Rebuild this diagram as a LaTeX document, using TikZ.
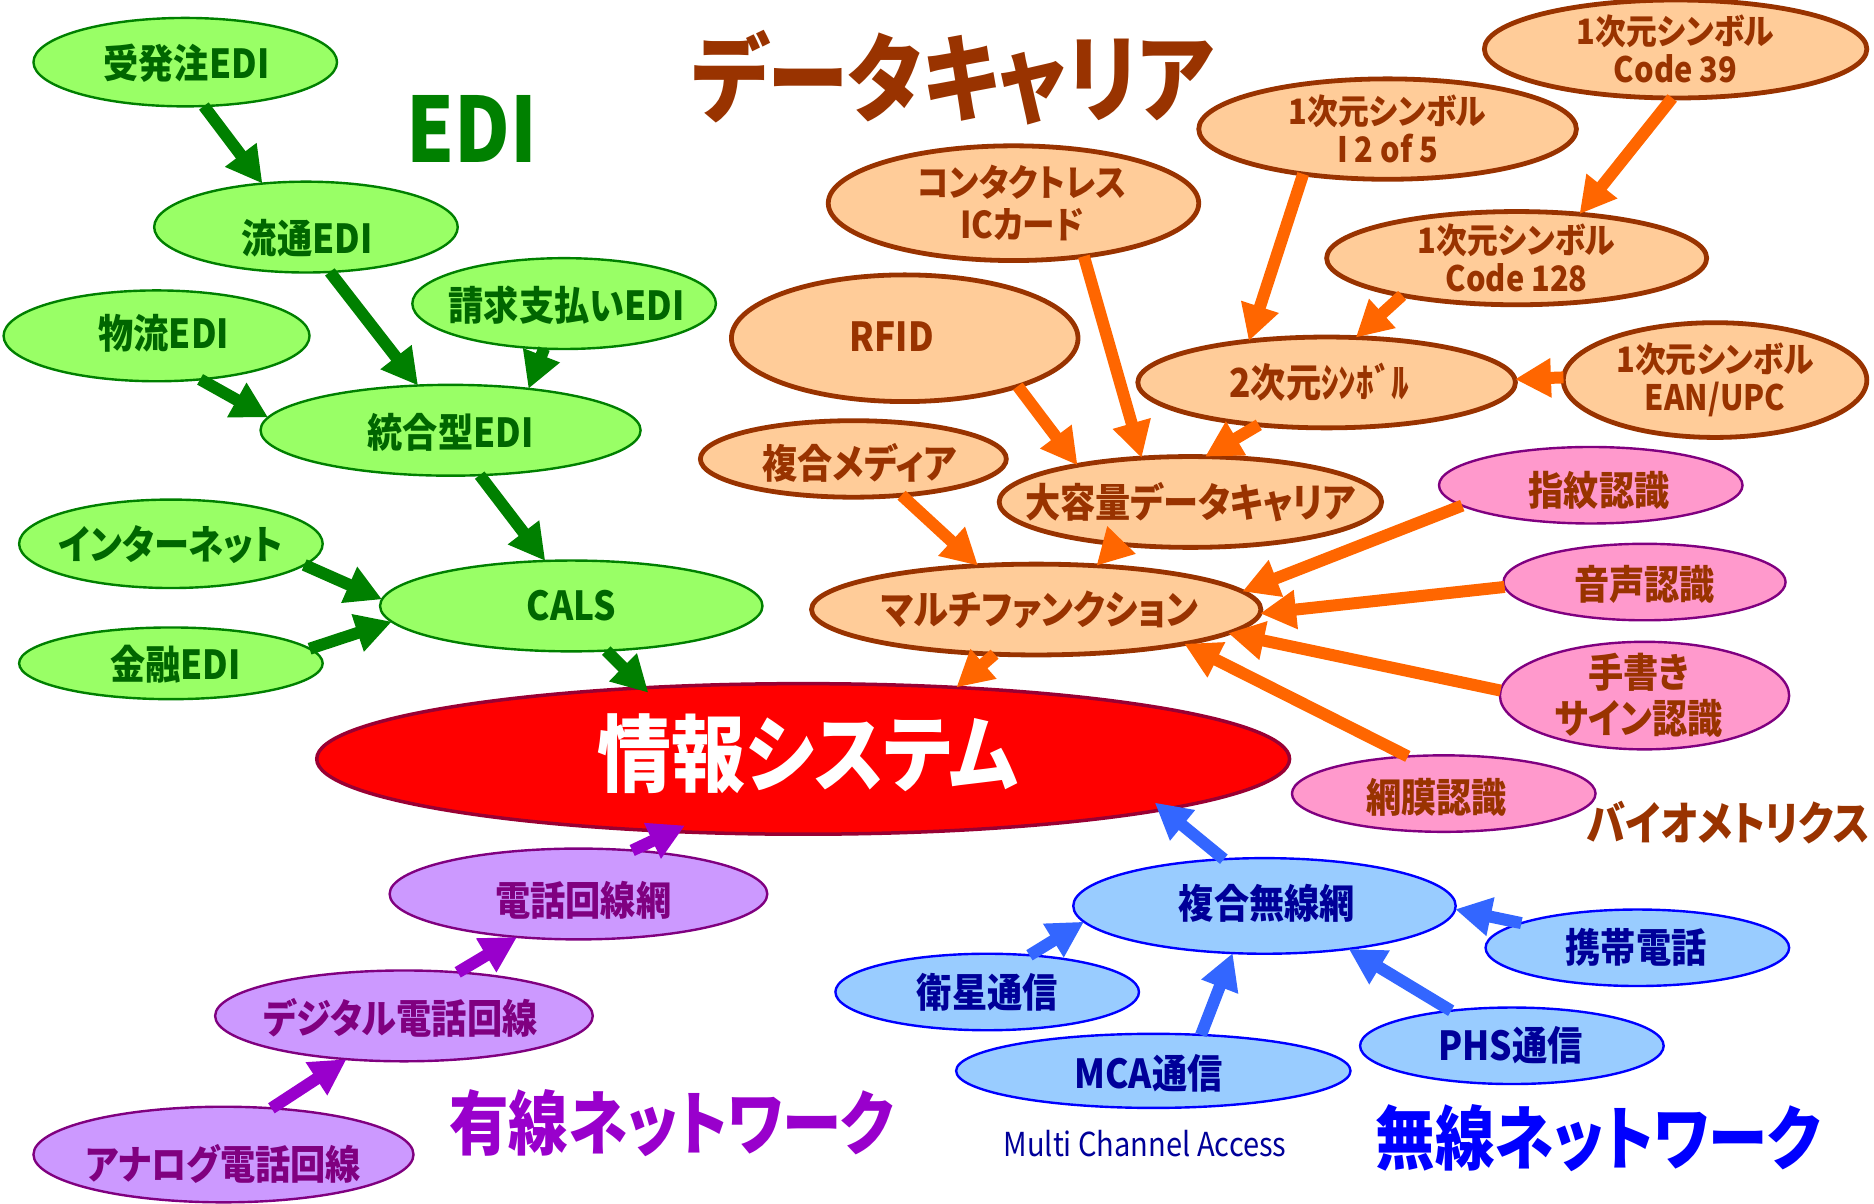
\documentclass[tikz,border=0pt]{standalone}
\usepackage{fontspec}
\usetikzlibrary{arrows.meta,shapes.geometric}
\setmainfont{Noto Sans CJK JP}[RawFeature=+palt, FakeStretch=0.88]
\newfontfamily\tfont{Noto Sans CJK JP}[RawFeature=+palt, FakeStretch=0.85]
\definecolor{gfill}{HTML}{99FF66}
\definecolor{gline}{HTML}{008000}
\definecolor{gtext}{HTML}{006600}
\definecolor{ofill}{HTML}{FFCC99}
\definecolor{oline}{HTML}{993300}
\definecolor{oarr}{HTML}{FF6600}
\definecolor{pfill}{HTML}{FF99CC}
\definecolor{pline}{HTML}{800080}
\definecolor{vfill}{HTML}{CC99FF}
\definecolor{varr}{HTML}{9900CC}
\definecolor{bfill}{HTML}{99CCFF}
\definecolor{bline}{HTML}{0000FF}
\definecolor{btext}{HTML}{000099}
\definecolor{barr}{HTML}{3366FF}
\definecolor{rline}{HTML}{990033}
\begin{document}
\begin{tikzpicture}[x=1.195pt,y=-1.195pt,
  base/.style={ellipse, inner sep=0pt, outer sep=0pt},
  sz/.style 2 args={minimum width=2.39*#1pt, minimum height=2.39*#2pt},
  gE/.style={base, fill=gfill, draw=gline, line width=2.4pt},
  oE/.style={base, fill=ofill, draw=oline, line width=4.8pt},
  pE/.style={base, fill=pfill, draw=pline, line width=2.4pt},
  vE/.style={base, fill=vfill, draw=pline, line width=2.4pt},
  bE/.style={base, fill=bfill, draw=bline, line width=2.4pt},
  rE/.style={base, fill=red, draw=rline, line width=3.5pt},
  txt/.style={font=\bfseries\fontsize{40pt}{46pt}\selectfont, align=center, inner sep=0pt},
  small/.style={font=\bfseries\fontsize{35pt}{38pt}\selectfont},
  gT/.style={txt, text=gtext},
  oT/.style={txt, text=oline},
  vT/.style={txt, text=pline},
  bT/.style={txt, text=btext},
  arr/.style={line width=12pt, -{Triangle[length=36pt,width=37pt]}},
  garr/.style={arr, draw=gline, fill=gline},
  oarrow/.style={arr, draw=oarr, fill=oarr},
  varrow/.style={arr, draw=varr, fill=varr},
  barrow/.style={arr, draw=barr, fill=barr},
  title/.style={font=\tfont\bfseries\fontsize{70pt}{74pt}\selectfont, inner sep=0pt}
]
\useasboundingbox (0,0) rectangle (1568,1007);

% ---------- green (EDI) ----------
\node[gE, sz={127}{37}] (g1) at (155,52) {};
\node[gE, sz={127}{38}] (g2) at (256,190) {};
\node[gE, sz={127}{38}] (g3) at (472,254) {};
\node[gE, sz={128}{38}] (g4) at (131,281) {};
\node[gE, sz={159}{38}] (g5) at (377,360) {};
\node[gE, sz={127}{37}] (g6) at (143,455) {};
\node[gE, sz={127}{30}] (g7) at (143,555) {};
\node[gE, sz={160}{38}] (g8) at (478,507) {};
\node[gT] (g1t) at (156,53) {受発注EDI};
\node[gT] (g2t) at (257,199) {流通EDI};
\node[gT] (g3t) at (474,255) {請求支払いEDI};
\node[gT] (g4t) at (137,279) {物流EDI};
\node[gT] (g5t) at (377,362) {統合型EDI};
\node[gT] (g6t) at (143,456) {インターネット};
\node[gT] (g7t) at (147,556) {金融EDI};
\node[gT] (g8t) at (478,507) {CALS};
\node[title, text=gline, font=\tfont\bfseries\fontsize{90pt}{94pt}\selectfont] (edi) at (395,108) {EDI};

% ---------- red ----------
\node[rE, sz={407}{63}] (r) at (672,635) {};
\node[txt, text=white, font=\bfseries\fontsize{84pt}{86pt}\selectfont] (rt) at (676,631) {情報システム};

% ---------- orange ----------
\node[oE, sz={155}{48}] (o1) at (848,170) {};
\node[oE, sz={158}{42}] (o2) at (1161,108) {};
\node[oE, sz={160}{41}] (o3) at (1402,41) {};
\node[oE, sz={159}{39}] (o4) at (1269,216) {};
\node[oE, sz={145}{53}] (o5) at (757,283) {};
\node[oE, sz={158}{38}] (o6) at (1110,320) {};
\node[oE, sz={127}{48}] (o7) at (1435,318) {};
\node[oE, sz={128}{32}] (o8) at (714,384) {};
\node[oE, sz={160}{38}] (o9) at (996,420) {};
\node[oE, sz={188}{38}] (o10) at (867,510) {};
\node[oT, font=\bfseries\fontsize{37pt}{42pt}\selectfont] (o1t) at (855,170) {コンタクトレス\\ICカード};
\node[oT, small] (o2t) at (o2) {1次元シンボル\\I 2 of 5};
\node[oT, small] (o3t) at (o3) {1次元シンボル\\Code 39};
\node[oT, small] (o4t) at (o4) {1次元シンボル\\Code 128};
\node[oT] (o5t) at (746,282) {RFID};
\node[oT] (o6t) at (1104,320) {2次元ｼﾝﾎﾞﾙ};
\node[oT, small] (o7t) at (o7) {1次元シンボル\\EAN/UPC};
\node[oT] (o8t) at (719,387) {複合メディア};
\node[oT] (o9t) at (996,420) {大容量データキャリア};
\node[oT] (o10t) at (870,510) {マルチファンクション};
\node[title, text=oline, font=\tfont\bfseries\fontsize{96pt}{100pt}\selectfont] (dc) at (797,65) {データキャリア};

% ---------- pink (biometrics) ----------
\node[pE, sz={127}{32}] (p1) at (1331,406) {};
\node[pE, sz={118}{32}] (p2) at (1376,487) {};
\node[pE, sz={121}{45}] (p3) at (1376,582) {};
\node[pE, sz={127}{32}] (p4) at (1208,664) {};
\node[oT] (p1t) at (1338,410) {指紋認識};
\node[oT] (p2t) at (1376,489) {音声認識};
\node[oT] (p3t) at (1371,582) {手書き\\サイン認識};
\node[oT] (p4t) at (1202,667) {網膜認識};
\node[title, text=oline, font=\tfont\bfseries\fontsize{46pt}{50pt}\selectfont] (bio) at (1446,688) {バイオメトリクス};

% ---------- purple (wired) ----------
\node[vE, sz={158}{38}] (v1) at (484,748) {};
\node[vE, sz={158}{38}] (v2) at (338,850) {};
\node[vE, sz={159}{40}] (v3) at (187,966) {};
\node[vT] (v1t) at (488,753) {電話回線網};
\node[vT] (v2t) at (335,852) {デジタル電話回線};
\node[vT] (v3t) at (187,974) {アナログ電話回線};
\node[title, text=varr] (wired) at (562,940) {有線ネットワーク};

% ---------- blue (wireless) ----------
\node[bE, sz={160}{40}] (b1) at (1058,758) {};
\node[bE, sz={127}{32}] (b2) at (1370,793) {};
\node[bE, sz={127}{32}] (b3) at (826,830) {};
\node[bE, sz={165}{31}] (b4) at (965,896) {};
\node[bE, sz={127}{32}] (b5) at (1265,875) {};
\node[bT] (b1t) at (1060,756) {複合無線網};
\node[bT] (b2t) at (1369,793) {携帯電話};
\node[bT] (b3t) at (826,830) {衛星通信};
\node[bT] (b4t) at (961,898) {MCA通信};
\node[bT] (b5t) at (1264,875) {PHS通信};
\node[inner sep=0pt, text=btext, font=\fontsize{33pt}{36pt}\selectfont] (mca) at (958,957) {Multi Channel Access};
\node[title, text=bline] (wless) at (1337,952) {無線ネットワーク};

% ---------- arrows ----------
\draw[garr] (g1.-67) -- (g2.135);
\draw[garr] (g2.-62) -- (g5.126);
\draw[garr] (g3.-114) -- (g5.28);
\draw[garr] (g4.-45) -- (g5.176);
\draw[garr] (g5.-57) -- (g8.120);
\draw[garr] (g6.-9) -- (g8.178);
\draw[garr] (g7.6) -- (g8.185);
\draw[garr, shorten >=-7pt] (g8.-52) -- (r.156);

\draw[oarrow] (o3.-94) -- (o4.35);
\draw[oarrow] (o2.-152) -- (o6.152);
\draw[oarrow] (o4.-162) -- (o6.57);
\draw[oarrow] (o7.179) -- (o6.1);
\draw[oarrow] (o1.-37) -- (o9.138);
\draw[oarrow] (o5.-23) -- (o9.162);
\draw[oarrow] (o6.-148) -- (o9.72);
\draw[oarrow] (o8.-37) -- (o10.143);
\draw[oarrow] (o9.-150) -- (o10.36);
\draw[oarrow] (p1.-171) -- (o10.5);
\draw[oarrow] (p2.-178) -- (o10.-1);
\draw[oarrow] (p3.178) -- (o10.-7);
\draw[oarrow] (p4.134) -- (o10.-13);
\draw[oarrow] (o10.-133) -- (r.25);

\draw[varrow] (v3.44) -- (v2.-143);
\draw[varrow] (v2.39) -- (v1.-145);
\draw[varrow, shorten >=-14pt] (v1.39) -- (r.-151);

\draw[barrow, shorten >=-11pt] (b1.131) -- (r.-8);
\draw[barrow] (b3.41) -- (b1.185);
\draw[barrow] (b4.37) -- (b1.-124);
\draw[barrow] (b5.150) -- (b1.-27);
\draw[barrow] (b2.168) -- (b1.-1);
\end{tikzpicture}
\end{document}
